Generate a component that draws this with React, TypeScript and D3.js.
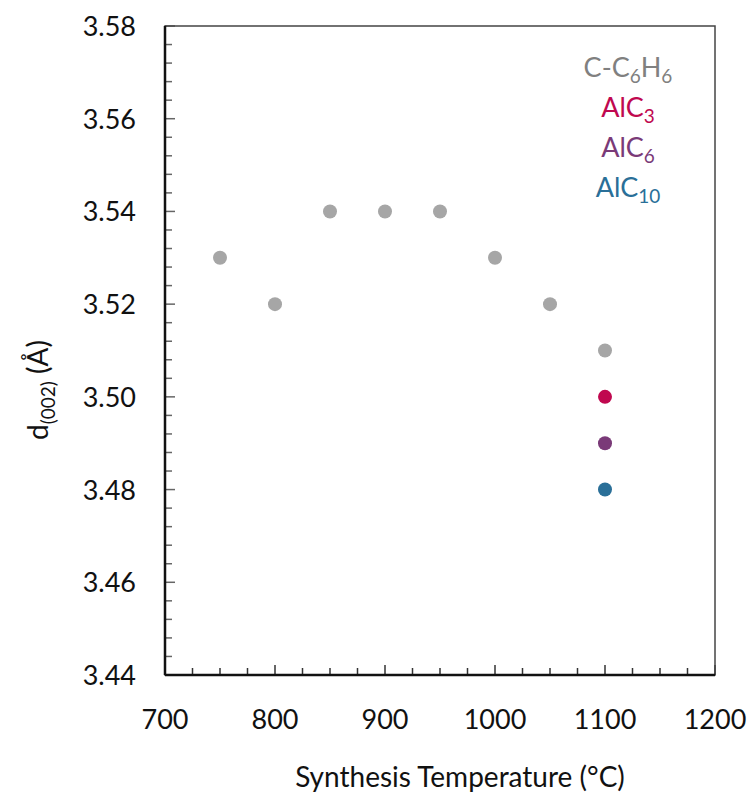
import React, { useEffect, useRef } from 'react';
import * as d3 from 'd3';

// synthesis temperatures (°C) and d(002) spacing (Å)
const benzeneTemps = [750, 800, 850, 900, 950, 1000, 1050, 1100];
const benzeneD = [3.53, 3.52, 3.54, 3.54, 3.54, 3.53, 3.52, 3.51];
const alcNames = ['AlC3', 'AlC6', 'AlC10'];
const alcTemps = [1100, 1100, 1100];
const alcD = [3.5, 3.49, 3.48];
const xTicks = [700, 800, 900, 1000, 1100, 1200];
const yTicks = [3.44, 3.46, 3.48, 3.5, 3.52, 3.54, 3.56, 3.58];

const grey = '#a6a6a6';
const alcColors = ['#c0084f', '#7a3a78', '#2a6f98'];

const App = () => {
  const ref = useRef<SVGSVGElement>(null);

  useEffect(() => {
    const svg = d3.select(ref.current);
    svg.selectAll('*').remove();

    const left = 165, right = 715, top = 26, bottom = 675;
    const x = d3.scaleLinear().domain([700, 1200]).range([left, right]);
    const y = d3.scaleLinear().domain([3.44, 3.58]).range([bottom, top]);
    const font = 'Lato, "Open Sans", sans-serif';

    // minor + major ticks, inward
    const xMinor = d3.range(700, 1200.1, 25);
    svg.append('g').selectAll('line').data(xMinor).enter().append('line')
      .attr('x1', d => x(d)).attr('x2', d => x(d))
      .attr('y1', bottom).attr('y2', d => bottom - (d % 100 === 0 ? 10 : 7))
      .attr('stroke', '#333').attr('stroke-width', 1.5);
    const yMinor = d3.range(0, 36).map(i => 3.44 + i * 0.004);
    svg.append('g').selectAll('line').data(yMinor).enter().append('line')
      .attr('y1', d => y(d)).attr('y2', d => y(d))
      .attr('x1', left).attr('x2', (d, i) => left + (i % 5 === 0 ? 10 : 7))
      .attr('stroke', '#666').attr('stroke-width', 1.5);

    // frame
    svg.append('rect').attr('x', left).attr('y', top)
      .attr('width', right - left).attr('height', bottom - top)
      .attr('fill', 'none').attr('stroke', '#444').attr('stroke-width', 1.5);
    svg.append('line').attr('x1', left).attr('x2', left).attr('y1', top).attr('y2', bottom)
      .attr('stroke', '#111').attr('stroke-width', 2.5);
    svg.append('line').attr('x1', left).attr('x2', right).attr('y1', bottom).attr('y2', bottom)
      .attr('stroke', '#111').attr('stroke-width', 2.5);

    // tick labels
    svg.append('g').selectAll('text').data(xTicks).enter().append('text')
      .attr('x', d => x(d)).attr('y', 729)
      .attr('text-anchor', 'middle').style('font-family', font).style('font-size', '27px')
      .attr('fill', '#111').text(d => d);
    svg.append('g').selectAll('text').data(yTicks).enter().append('text')
      .attr('x', 136).attr('y', d => y(d) + 10)
      .attr('text-anchor', 'end').style('font-family', font).style('font-size', '27px')
      .attr('fill', '#111').text(d => d.toFixed(2));

    // axis titles
    svg.append('text').attr('x', 460).attr('y', 787).attr('text-anchor', 'middle')
      .style('font-family', font).style('font-size', '28px').attr('fill', '#111')
      .text('Synthesis Temperature (°C)');
    const yl = svg.append('text').attr('transform', 'translate(48,390) rotate(-90)')
      .attr('text-anchor', 'middle').style('font-family', font).style('font-size', '28px')
      .attr('fill', '#111');
    yl.append('tspan').text('d');
    yl.append('tspan').attr('dy', 7).style('font-size', '19px').text('(002)');
    yl.append('tspan').attr('dy', -7).text(' (Å)');

    // points
    svg.append('g').selectAll('circle').data(benzeneTemps).enter().append('circle')
      .attr('cx', d => x(d)).attr('cy', (d, i) => y(benzeneD[i])).attr('r', 7)
      .attr('fill', grey);
    svg.append('g').selectAll('circle').data(alcTemps).enter().append('circle')
      .attr('cx', d => x(d)).attr('cy', (d, i) => y(alcD[i])).attr('r', 7)
      .attr('fill', (d, i) => alcColors[i]);

    // legend text
    const leg = [
      { parts: [['C-C', 0], ['6', 1], ['H', 0], ['6', 1]], color: '#808080' },
      ...alcNames.map((n, i) => ({
        parts: [['AlC', 0], [n.slice(3), 1]], color: alcColors[i]
      }))
    ];
    leg.forEach((l, i) => {
      const t = svg.append('text').attr('x', 628).attr('y', 77 + i * 40)
        .attr('text-anchor', 'middle').style('font-family', font).style('font-size', '27px')
        .attr('fill', l.color);
      let sub = false;
      l.parts.forEach(([s, isSub]) => {
        const ts = t.append('tspan').text(s as string);
        if (isSub && !sub) { ts.attr('dy', 6).style('font-size', '19px'); sub = true; }
        else if (!isSub && sub) { ts.attr('dy', -6); sub = false; }
        else if (isSub) ts.style('font-size', '19px');
      });
    });
  }, []);

  return <svg ref={ref} width={756} height={801} style={{ display: 'block', position: 'absolute', left: 0, top: 0 }} />;
};

export default App;
